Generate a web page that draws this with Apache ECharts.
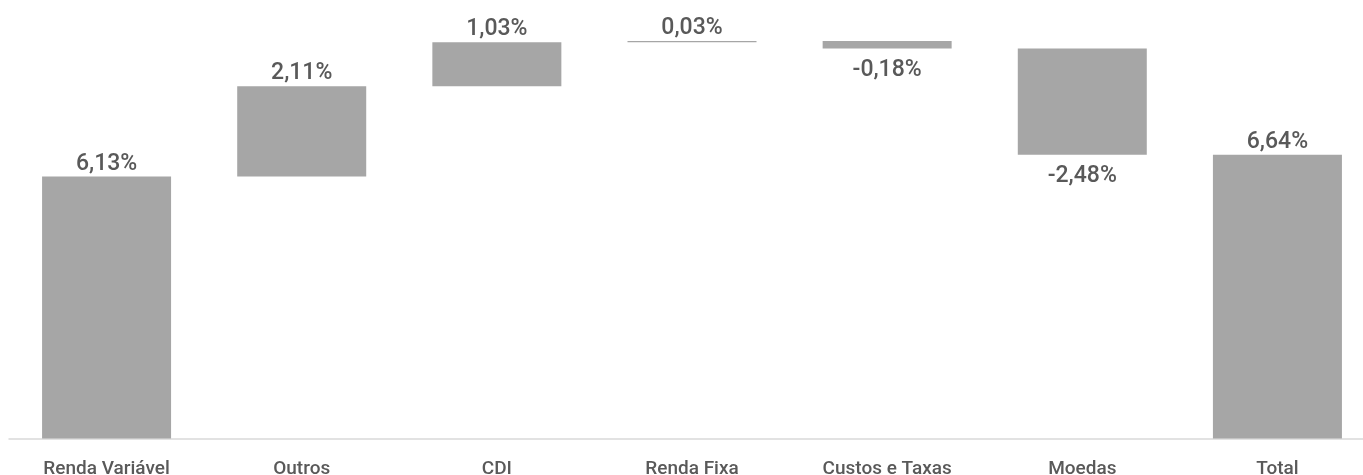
<!DOCTYPE html>
<html>
<head>
<meta charset="utf-8">
<script src="https://cdn.jsdelivr.net/npm/echarts@6/dist/echarts.min.js"></script>
<style>
  html, body { margin: 0; padding: 0; background: #fff; }
  #chart { width: 1363px; height: 475px; }
</style>
</head>
<body>
<div id="chart"></div>
<script>
const categories = ['Renda Variável', 'Outros', 'CDI', 'Renda Fixa', 'Custos e Taxas', 'Moedas', 'Total'];
const values = [6.13, 2.11, 1.03, 0.03, -0.18, -2.48, 6.64];
const isTotal = [false, false, false, false, false, false, true];

// waterfall: invisible base + visible step
const baseData = [];
const stepData = [];
let running = 0;
values.forEach((v, i) => {
  if (isTotal[i]) {
    baseData.push(0);
    stepData.push(v);
    return;
  }
  const next = running + v;
  baseData.push(Math.min(running, next));
  stepData.push(Math.abs(v));
  running = next;
});

const fmt = v => v.toFixed(2).replace('.', ',') + '%';
const font = 'Roboto, sans-serif';

const chart = echarts.init(document.getElementById('chart'));
chart.setOption({
  animation: false,
  grid: { left: 9, right: -12, top: 11, bottom: 36.5, outerBoundsMode: 'none', containLabel: false },
  xAxis: {
    type: 'category',
    data: categories,
    axisLine: { lineStyle: { color: '#d9d9d9', width: 1.5 } },
    axisTick: { show: false },
    axisLabel: { color: '#595959', fontSize: 19, fontWeight: 500, fontFamily: font, margin: 21, interval: 0 }
  },
  yAxis: {
    type: 'value',
    min: 0,
    max: 10,
    show: false,
    splitLine: { show: false }
  },
  series: [
    {
      type: 'bar',
      stack: 'w',
      data: baseData,
      barWidth: 129,
      itemStyle: { color: 'transparent' },
      silent: true
    },
    {
      type: 'bar',
      stack: 'w',
      barWidth: 129,
      itemStyle: { color: '#a6a6a6' },
      data: stepData.map((h, i) => ({
        value: h,
        label: {
          show: true,
          position: values[i] < 0 ? 'bottom' : 'top',
          distance: values[i] < 0 ? 10 : 1,
          formatter: () => fmt(values[i]),
          color: '#595959',
          fontSize: 23,
          fontWeight: 500,
          fontFamily: font
        }
      }))
    }
  ]
});
</script>
</body>
</html>
